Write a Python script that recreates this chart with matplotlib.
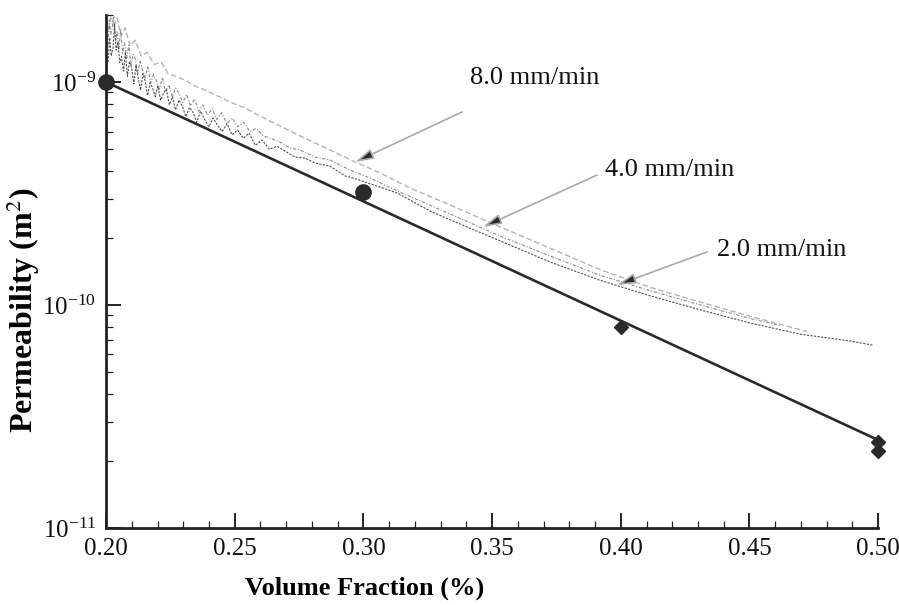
import matplotlib
matplotlib.use("Agg")
import matplotlib.pyplot as plt
from matplotlib.patches import FancyArrowPatch
from matplotlib.ticker import MultipleLocator, LogLocator, LogFormatterMathtext, NullFormatter, FormatStrFormatter

plt.rcParams['font.family'] = ['Liberation Serif', 'DejaVu Serif']
plt.rcParams['mathtext.fontset'] = 'stix'

# fitted model line
fit_x = [0.20, 0.50]
fit_k = [1.0e-9, 2.48e-11]

# computed points (circles / diamonds)
circ_x = [0.20, 0.30]
circ_k = [1.0e-9, 3.21e-10]
diam_x = [0.40, 0.50, 0.50]
diam_k = [7.96e-11, 2.43e-11, 2.21e-11]

# measured curves, 8.0 mm/min
v8_x = [0.2008, 0.2019, 0.2031, 0.2043, 0.2058, 0.2074, 0.2093, 0.2113, 0.2136, 0.2159,
        0.2187, 0.2214, 0.2241, 0.2272, 0.2307, 0.2346, 0.2385, 0.2435, 0.2482, 0.2540,
        0.2598, 0.2676, 0.2754, 0.2870, 0.2968, 0.3065, 0.3181, 0.3337, 0.3531, 0.3725,
        0.3920, 0.4114, 0.4311, 0.4503, 0.4724]
v8_k = [1.71e-9, 1.98e-9, 1.78e-9, 1.94e-9, 1.61e-9, 1.75e-9, 1.45e-9, 1.54e-9, 1.31e-9, 1.36e-9,
        1.20e-9, 1.23e-9, 1.09e-9, 1.06e-9, 1.02e-9, 9.6e-10, 9.2e-10, 8.65e-10, 8.13e-10, 7.65e-10,
        7.04e-10, 6.35e-10, 5.73e-10, 4.96e-10, 4.38e-10, 3.91e-10, 3.35e-10, 2.81e-10, 2.24e-10, 1.80e-10,
        1.44e-10, 1.20e-10, 1.03e-10, 8.9e-11, 7.6e-11]

# 4.0 mm/min
v4_x = [0.2008, 0.2013, 0.2018, 0.2024, 0.2030, 0.2037, 0.2043, 0.2050, 0.2057, 0.2064,
        0.2072, 0.2080, 0.2088, 0.2097, 0.2105, 0.2114, 0.2123, 0.2132, 0.2142, 0.2152,
        0.2162, 0.2173, 0.2184, 0.2195, 0.2207, 0.2219, 0.2231, 0.2244, 0.2257, 0.2270,
        0.2284, 0.2298, 0.2313, 0.2328, 0.2344, 0.2360, 0.2377, 0.2394, 0.2412, 0.2430,
        0.2449, 0.2469, 0.2490, 0.2512, 0.2535, 0.2559, 0.2584, 0.2610, 0.2637, 0.2676,
        0.2715, 0.2754, 0.2812, 0.2870, 0.2948, 0.3026, 0.3142, 0.3337, 0.3531, 0.3725,
        0.3920, 0.4114, 0.4311, 0.4503, 0.4619]
v4_k = [14.7e-10, 19.0e-10, 16.4e-10, 17.5e-10, 19.6e-10, 15.2e-10, 16.9e-10, 14.1e-10, 17.3e-10, 13.5e-10,
        15.0e-10, 12.8e-10, 14.6e-10, 11.9e-10, 13.3e-10, 12.7e-10, 10.9e-10, 12.5e-10, 11.3e-10, 10.4e-10,
        11.8e-10, 9.9e-10, 10.8e-10, 10.2e-10, 9.3e-10, 10.5e-10, 9.0e-10, 9.7e-10, 8.6e-10, 9.4e-10,
        8.9e-10, 8.1e-10, 8.8e-10, 7.8e-10, 8.4e-10, 7.4e-10, 7.9e-10, 7.1e-10, 7.6e-10, 6.8e-10,
        7.3e-10, 6.5e-10, 6.9e-10, 6.3e-10, 6.6e-10, 6.0e-10, 6.2e-10, 5.75e-10, 5.6e-10, 5.38e-10,
        5.06e-10, 4.96e-10, 4.61e-10, 4.47e-10, 4.03e-10, 3.71e-10, 3.21e-10, 2.56e-10, 2.04e-10, 1.66e-10,
        1.36e-10, 1.16e-10, 1.00e-10, 0.87e-10, 0.81e-10]

# 2.0 mm/min
v2_x = [0.2008, 0.2014, 0.2020, 0.2027, 0.2033, 0.2039, 0.2046, 0.2053, 0.2060, 0.2068,
        0.2075, 0.2083, 0.2091, 0.2099, 0.2108, 0.2116, 0.2125, 0.2134, 0.2143, 0.2152,
        0.2161, 0.2171, 0.2181, 0.2191, 0.2201, 0.2212, 0.2223, 0.2234, 0.2246, 0.2258,
        0.2270, 0.2283, 0.2296, 0.2310, 0.2324, 0.2338, 0.2352, 0.2367, 0.2383, 0.2399,
        0.2416, 0.2433, 0.2451, 0.2470, 0.2490, 0.2511, 0.2533, 0.2556, 0.2580, 0.2606,
        0.2634, 0.2664, 0.2696, 0.2734, 0.2773, 0.2812, 0.2870, 0.2929, 0.2960, 0.3006,
        0.3065, 0.3131, 0.3259, 0.3337, 0.3531, 0.3725, 0.3920, 0.4114, 0.4311, 0.4503,
        0.4697, 0.4891, 0.4981]
v2_k = [12.3e-10, 15.8e-10, 13.1e-10, 14.2e-10, 18.2e-10, 13.9e-10, 15.1e-10, 12.2e-10, 13.0e-10, 11.2e-10,
        13.6e-10, 10.6e-10, 12.4e-10, 11.6e-10, 9.8e-10, 11.9e-10, 10.4e-10, 9.2e-10, 10.9e-10, 10.1e-10,
        8.7e-10, 9.9e-10, 9.4e-10, 8.6e-10, 9.6e-10, 8.3e-10, 8.9e-10, 9.3e-10, 7.9e-10, 8.6e-10,
        7.5e-10, 8.3e-10, 7.8e-10, 7.0e-10, 7.7e-10, 7.3e-10, 6.6e-10, 7.4e-10, 6.8e-10, 6.3e-10,
        6.9e-10, 6.4e-10, 6.0e-10, 6.5e-10, 5.8e-10, 6.1e-10, 5.6e-10, 5.9e-10, 5.2e-10, 5.5e-10,
        5.0e-10, 5.15e-10, 4.9e-10, 4.61e-10, 4.56e-10, 4.33e-10, 4.20e-10, 3.79e-10, 3.71e-10, 3.56e-10,
        3.38e-10, 3.18e-10, 2.64e-10, 2.41e-10, 1.94e-10, 1.56e-10, 1.29e-10, 1.10e-10, 0.95e-10, 0.83e-10,
        0.74e-10, 0.69e-10, 0.66e-10]

# annotation labels: text position and arrow start/tip
ann_text = ["8.0 mm/min", "4.0 mm/min", "2.0 mm/min"]
ann_pos = [(0.3414, 1.04e-9), (0.3939, 4.03e-10), (0.4374, 1.76e-10)]
ann_start = [(0.3383, 7.34e-10), (0.3908, 3.83e-10), (0.4335, 1.73e-10)]
ann_tip = [(0.2968, 4.38e-10), (0.3465, 2.24e-10), (0.3986, 1.23e-10)]

fig = plt.figure(figsize=(8.99, 6.05), dpi=100)
ax = fig.add_axes([0.118, 0.1273, 0.8588, 0.848])

ax.plot(v8_x, v8_k, color='#b4b4b4', lw=1.0, ls=(0, (4, 2)), zorder=2)
ax.plot(v4_x, v4_k, color='#8c8c8c', lw=0.8, ls=(0, (3, 1.5, 1, 1.5)), zorder=2)
ax.plot(v2_x, v2_k, color='#505050', lw=0.8, ls=(0, (2, 1.2)), zorder=2)

ax.plot(fit_x, fit_k, color='#2a2a2a', lw=1.9, zorder=3)
ax.plot(circ_x, circ_k, 'o', color='#2a2a2a', ms=11, zorder=4, clip_on=False)
ax.plot(diam_x, diam_k, 'D', color='#2a2a2a', ms=7, zorder=4, clip_on=False)

for txt, pos, st, tip in zip(ann_text, ann_pos, ann_start, ann_tip):
    arr = FancyArrowPatch(st, tip, arrowstyle='-|>,head_length=1.1,head_width=0.3',
                          mutation_scale=10, edgecolor='#a8a8a8', facecolor='#2a2a2a',
                          lw=1.2, shrinkA=0, shrinkB=0, zorder=5)
    ax.add_patch(arr)
    ax.text(pos[0], pos[1], txt, fontsize=19, ha='left', va='center', color='#111111')

ax.set_yscale('log')
ax.set_xlim(0.20, 0.50)
ax.set_ylim(1e-11, 2e-9)

ax.xaxis.set_major_locator(MultipleLocator(0.05))
ax.xaxis.set_minor_locator(MultipleLocator(0.01))
ax.xaxis.set_major_formatter(FormatStrFormatter('%.2f'))
ax.yaxis.set_major_locator(LogLocator(base=10))
ax.yaxis.set_major_formatter(LogFormatterMathtext())
ax.yaxis.set_minor_locator(LogLocator(base=10, subs=range(2, 10)))
ax.yaxis.set_minor_formatter(NullFormatter())

ax.tick_params(which='both', direction='in', color='#222222', labelsize=18, labelcolor='#111111')
ax.tick_params(which='major', length=11, width=1.4, pad=7)
ax.tick_params(which='minor', length=5, width=0.9)

for s in ['top', 'right']:
    ax.spines[s].set_visible(False)
for s in ['left', 'bottom']:
    ax.spines[s].set_linewidth(2)
    ax.spines[s].set_color('#222222')

ax.set_xlabel("Volume Fraction (%)", fontsize=19, fontweight='bold')
ax.xaxis.set_label_coords(0.335, -0.095)
ax.set_ylabel("Permeability (m$^2$)", fontsize=23, fontweight='bold')
ax.yaxis.set_label_coords(-0.083, 0.425)

fig.savefig("out.png", dpi=100)
